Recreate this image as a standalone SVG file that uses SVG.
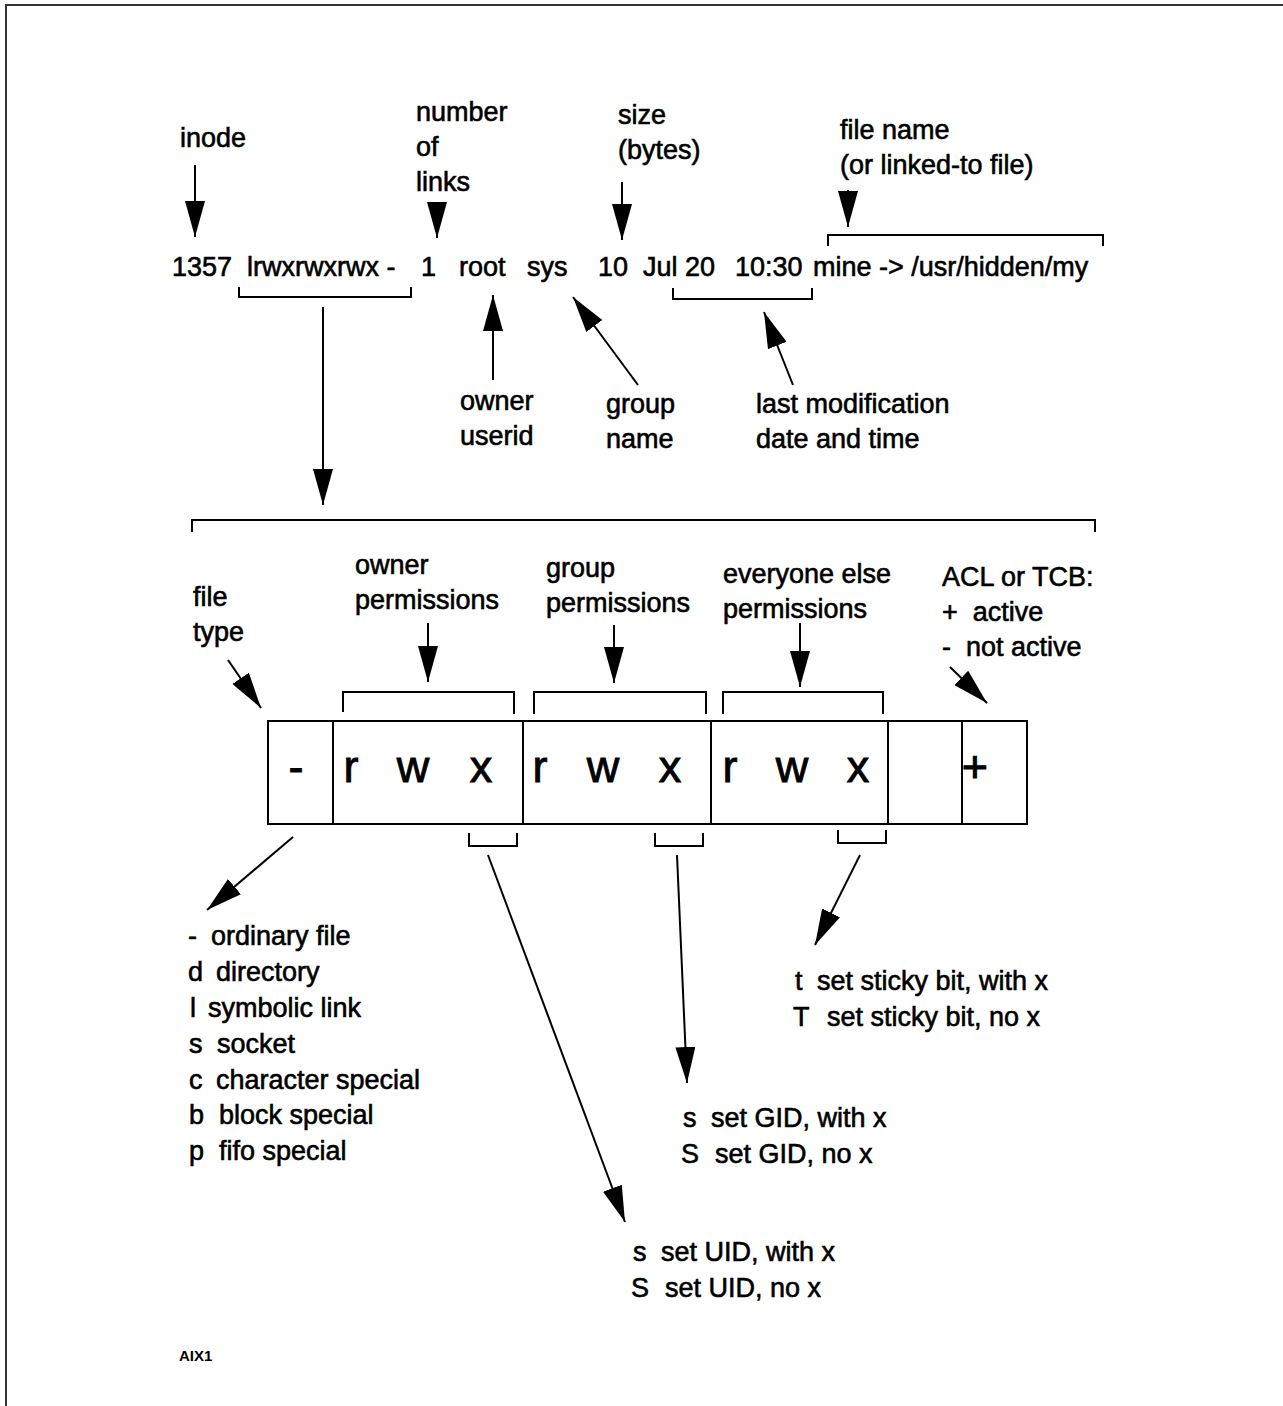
<svg xmlns="http://www.w3.org/2000/svg" width="1283" height="1406" viewBox="0 0 1283 1406">
<style>
text{font-family:"Liberation Sans",Arial,sans-serif;font-size:27px;fill:#000;stroke:#000;stroke-width:0.6;white-space:pre}
.big{font-size:45px;text-anchor:middle;stroke-width:0.9}
.small{font-size:15px;font-weight:bold;stroke-width:0}
.ln{stroke:#000;stroke-width:2;fill:none}
.ar{stroke:#000;stroke-width:2;fill:none;marker-end:url(#ah)}
.bx{stroke:#000;stroke-width:2;fill:#fff}
</style>
<defs>
<marker id="ah" viewBox="0 0 36 20" refX="36" refY="10" markerWidth="36" markerHeight="20" markerUnits="userSpaceOnUse" orient="auto">
<path d="M0,0 L36,10 L0,20 Z" fill="#000"/>
</marker>
</defs>
<rect x="0" y="0" width="1283" height="1406" fill="#fff"/>
<path d="M6,1406 V5 H1283" stroke="#333" stroke-width="2" fill="none"/>

<g id="listing">
<text x="172" y="276">1357</text>
<text x="247" y="276">lrwxrwxrwx -</text>
<text x="421" y="276">1</text>
<text x="459" y="276">root</text>
<text x="527" y="276">sys</text>
<text x="598" y="276">10</text>
<text x="643" y="276">Jul 20</text>
<text x="735" y="276">10:30</text>
<text x="813" y="276">mine -&gt; /usr/hidden/my</text>
</g>

<g id="label-inode"><text x="180" y="147">inode</text></g>
<g id="label-links"><text x="416" y="121">number</text><text x="416" y="156">of</text><text x="416" y="191">links</text></g>
<g id="label-size"><text x="618" y="124">size</text><text x="618" y="159">(bytes)</text></g>
<g id="label-filename"><text x="840" y="139">file name</text><text x="840" y="174">(or linked-to file)</text></g>
<g id="label-owner"><text x="460" y="410">owner</text><text x="460" y="445">userid</text></g>
<g id="label-group"><text x="606" y="413">group</text><text x="606" y="448">name</text></g>
<g id="label-date"><text x="756" y="413">last modification</text><text x="756" y="448">date and time</text></g>

<g id="label-filetype"><text x="193" y="606">file</text><text x="193" y="641">type</text></g>
<g id="label-ownerperm"><text x="355" y="574">owner</text><text x="355" y="609">permissions</text></g>
<g id="label-groupperm"><text x="546" y="577">group</text><text x="546" y="612">permissions</text></g>
<g id="label-otherperm"><text x="723" y="583">everyone else</text><text x="723" y="618">permissions</text></g>
<g id="label-acl"><text x="942" y="586">ACL or TCB:</text><text x="942" y="621">+  active</text><text x="942" y="656">-  not active</text></g>

<g id="permbox">
<rect class="bx" x="268" y="721" width="759" height="103"/>
<path class="ln" d="M333,721 V824 M523,721 V824 M711,721 V824 M888,721 V824 M962,721 V824"/>
<text class="big" x="296" y="782">-</text>
<text class="big" x="351" y="782">r</text>
<text class="big" x="413" y="782">w</text>
<text class="big" x="481" y="782">x</text>
<text class="big" x="540" y="782">r</text>
<text class="big" x="603" y="782">w</text>
<text class="big" x="670" y="782">x</text>
<text class="big" x="730" y="782">r</text>
<text class="big" x="792" y="782">w</text>
<text class="big" x="858" y="782">x</text>
<text class="big" x="975" y="782">+</text>
</g>

<g id="list-filetypes">
<text y="945"><tspan x="188">-</tspan><tspan x="211">ordinary file</tspan></text>
<text y="981"><tspan x="188">d</tspan><tspan x="216">directory</tspan></text>
<text y="1017"><tspan x="190">l</tspan><tspan x="208">symbolic link</tspan></text>
<text y="1053"><tspan x="189">s</tspan><tspan x="217">socket</tspan></text>
<text y="1089"><tspan x="189">c</tspan><tspan x="216">character special</tspan></text>
<text y="1124"><tspan x="189">b</tspan><tspan x="219">block special</tspan></text>
<text y="1160"><tspan x="189">p</tspan><tspan x="219">fifo special</tspan></text>
</g>
<g id="list-sticky">
<text y="990"><tspan x="795">t</tspan><tspan x="817">set sticky bit, with x</tspan></text>
<text y="1026"><tspan x="793">T</tspan><tspan x="827">set sticky bit, no x</tspan></text>
</g>
<g id="list-gid">
<text y="1127"><tspan x="683">s</tspan><tspan x="711">set GID, with x</tspan></text>
<text y="1163"><tspan x="681">S</tspan><tspan x="715">set GID, no x</tspan></text>
</g>
<g id="list-uid">
<text y="1261"><tspan x="633">s</tspan><tspan x="661">set UID, with x</tspan></text>
<text y="1297"><tspan x="631">S</tspan><tspan x="665">set UID, no x</tspan></text>
</g>
<g id="label-aix"><text class="small" x="179" y="1361">AIX1</text></g>

<g id="connectors">
<path class="ln" d="M239,287 V297 H411 V287"/>
<path class="ln" d="M673,288 V299 H812 V288"/>
<path class="ln" d="M828,246 V235 H1103 V246"/>
<path class="ln" d="M192,532 V520 H1095 V532"/>
<path class="ln" d="M343,712 V692 H514 V714"/>
<path class="ln" d="M534,714 V692 H706 V714"/>
<path class="ln" d="M723,714 V692 H883 V714"/>
<path class="ln" d="M469,833 V846 H517 V833"/>
<path class="ln" d="M655,833 V846 H703 V833"/>
<path class="ln" d="M838,830 V843 H886 V830"/>
<line class="ar" x1="195" y1="165" x2="195" y2="237"/>
<line class="ar" x1="437" y1="202" x2="437" y2="238"/>
<line class="ar" x1="622" y1="182" x2="622" y2="240"/>
<line class="ar" x1="848" y1="190" x2="848" y2="227"/>
<line class="ar" x1="493" y1="380" x2="493" y2="295"/>
<line class="ar" x1="638" y1="385" x2="573" y2="297"/>
<line class="ar" x1="793" y1="385" x2="764" y2="312"/>
<line class="ar" x1="323" y1="307" x2="323" y2="505"/>
<line class="ar" x1="228" y1="660" x2="261" y2="708"/>
<line class="ar" x1="428" y1="623" x2="428" y2="682"/>
<line class="ar" x1="614" y1="625" x2="614" y2="683"/>
<line class="ar" x1="800" y1="623" x2="800" y2="687"/>
<line class="ar" x1="950" y1="667" x2="987" y2="703"/>
<line class="ar" x1="293" y1="837" x2="207" y2="910"/>
<line class="ar" x1="488" y1="855" x2="625" y2="1222"/>
<line class="ar" x1="677" y1="855" x2="687" y2="1083"/>
<line class="ar" x1="860" y1="855" x2="815" y2="945"/>
</g>
</svg>
